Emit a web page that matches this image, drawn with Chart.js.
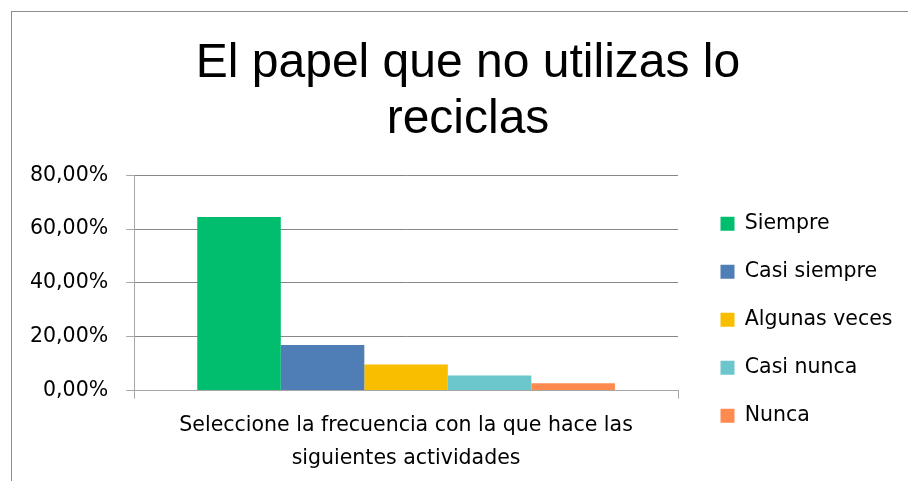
<!DOCTYPE html>
<html>
<head>
<meta charset="utf-8">
<script src="https://cdn.jsdelivr.net/npm/chart.js@4.4.1/dist/chart.umd.min.js"></script>
<style>
  html, body { margin: 0; padding: 0; background: #fff; overflow: hidden; }
  #frame {
    position: absolute; left: 11px; top: 11px;
    width: 912px; height: 500px;
    border: 1px solid #8c8c8c;
  }
  #chart { display: block; }
</style>
</head>
<body>
<div id="frame"><canvas id="chart" width="912" height="500"></canvas></div>
<script>
// Data
const titleLines = ['El papel que no utilizas lo', 'reciclas'];
const categories = [['Seleccione la frecuencia con la que hace las', 'siguientes actividades']];
const seriesNames = ['Siempre', 'Casi siempre', 'Algunas veces', 'Casi nunca', 'Nunca'];
const seriesValues = [64.5, 16.9, 9.7, 5.6, 2.7];
const seriesColors = ['#00BE6E', '#4E7EB5', '#F9BE00', '#6BC7CB', '#FE8A50'];
const yTicks = [0, 20, 40, 60, 80];

const FONT = '"DejaVu Sans", "Open Sans", sans-serif';
const FS = 20.5;

// nudge the legend to where Excel puts it (and don't clip its text)
const legendShift = {
  id: 'legendShift',
  afterLayout(chart) {
    const lg = chart.legend;
    lg.left = 681;
    lg.right = chart.width;
    const h = lg.bottom - lg.top;
    lg.top = 174;
    lg.bottom = lg.top + h;
  }
};

const datasets = seriesNames.map((name, i) => ({
  label: name,
  data: [seriesValues[i]],
  backgroundColor: seriesColors[i],
  borderWidth: 0,
  barPercentage: 1,
  categoryPercentage: 0.768
}));

new Chart(document.getElementById('chart'), {
  type: 'bar',
  plugins: [legendShift],
  data: { labels: categories, datasets: datasets },
  options: {
    responsive: false,
    animation: false,
    layout: { padding: { left: 0, right: 0, top: 0, bottom: 27 } },
    plugins: {
      tooltip: { enabled: false },
      title: {
        display: true,
        text: titleLines,
        color: '#000',
        font: { family: '"Liberation Sans", Arial, sans-serif', size: 48, weight: 'normal', lineHeight: 1.18 },
        padding: { top: 23, bottom: 27 }
      },
      legend: {
        position: 'right',
        align: 'start',
        maxWidth: 150,
        labels: {
          boxWidth: 14,
          boxHeight: 14,
          padding: 27.5,
          color: '#000',
          font: { family: FONT, size: FS }
        }
      }
    },
    scales: {
      x: {
        grid: {
          offset: true,
          drawOnChartArea: false,
          drawTicks: true,
          tickLength: 8,
          tickColor: '#a6a6a6',
          lineWidth: 1
        },
        border: { color: '#a6a6a6', width: 1 },
        ticks: {
          color: '#000',
          padding: 10,
          font: { family: FONT, size: FS, lineHeight: 1.62 }
        }
      },
      y: {
        min: 0,
        max: 80,
        afterBuildTicks(scale) { scale.ticks = yTicks.map(v => ({ value: v })); },
        grid: {
          color: '#868686',
          lineWidth: 1,
          drawTicks: true,
          tickLength: 8,
          tickColor: '#a6a6a6'
        },
        border: { color: '#a6a6a6', width: 1 },
        ticks: {
          color: '#000',
          padding: 18,
          font: { family: FONT, size: FS },
          callback: v => v.toFixed(2).replace('.', ',') + '%'
        }
      },
      // empty strip between plot and legend
      gap: {
        type: 'linear',
        position: 'right',
        display: true,
        grid: { display: false },
        border: { display: false },
        ticks: { display: false },
        afterFit(scale) { scale.width = 96; }
      }
    }
  }
});
</script>
</body>
</html>
